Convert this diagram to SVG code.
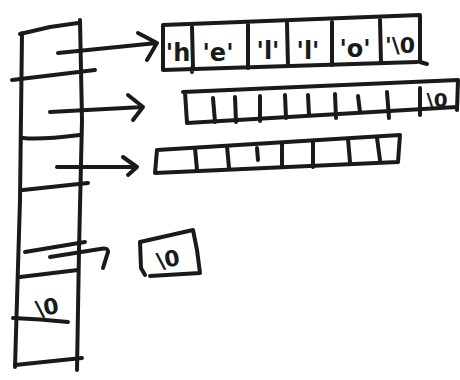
<svg xmlns="http://www.w3.org/2000/svg" width="460" height="380" viewBox="0 0 460 380">
<style>
.s{fill:none;stroke:#1a1a1a;stroke-width:4;stroke-linecap:round;stroke-linejoin:round}
.t{font-family:"DejaVu Sans",sans-serif;font-weight:bold;fill:#1a1a1a;text-anchor:middle}
</style>
<rect width="460" height="380" fill="#ffffff"/>
<g id="pointer-array">
<path class="s" d="M20,34 L50,27 L78,23 M22,33 L20,200 L17,300 L15,367 M80,20 L82,120 L79,250 L77,370"/>
<path class="s" d="M12,80 L95,70 M23,138 Q40,140 80,135 M23,190 L88,183 M25,252 L85,242 M20,277 L78,270 M13,318 Q40,319 68,322 M15,365 L82,358"/>
<text class="t" x="47" y="315" font-size="22" transform="rotate(-10 47 307)">\0</text>
</g>
<g id="string-hello">
<path class="s" d="M163,25 L420,15 L420,62 L427,64 M163,25 L163,70 L417,62 M192,72 L192,68"/>
<path class="s" d="M192,27 L193,68 M248,25 L248,68 M287,23 L288,66 M332,22 L332,65 M380,20 L381,63"/>
<text class="t" x="178" y="61" font-size="24">'h</text>
<text class="t" x="218" y="61" font-size="24">'e'</text>
<text class="t" x="268" y="59" font-size="24">'l'</text>
<text class="t" x="308" y="59" font-size="24">'l'</text>
<text class="t" x="355" y="57" font-size="24">'o'</text>
<text class="t" x="400" y="53" font-size="22">'\0</text>
</g>
<g id="array-row2">
<path class="s" d="M183,92 L458,80 L457,110 M185,92 L187,123 L457,107"/>
<path class="s" d="M213,98 L215,122 M235,97 L236,122 M260,96 L260,121 M285,95 L286,118 M308,95 L309,115 M335,94 L336,118 M358,96 L360,112 M387,92 L389,118 M420,88 L420,115"/>
<text class="t" x="437" y="107" font-size="20">\0</text>
</g>
<g id="array-row3">
<path class="s" d="M157,150 L400,135 L398,162 M157,150 L155,173 L398,162"/>
<path class="s" d="M195,148 L197,170 M227,146 L229,168 M257,148 L258,160 M282,144 L282,166 M313,142 L313,167 M348,139 L350,162 M377,138 L380,160"/>
</g>
<g id="char-box">
<path class="s" d="M140,242 L193,230 L197,250 L200,273 L150,276 M140,242 L141,268 L145,275"/>
<text class="t" x="168" y="267" font-size="22" transform="rotate(-10 168 259)">\0</text>
</g>
<g id="connectors">
<path class="s" d="M58,53 L157,43 M138,33 L157,43 L147,60"/>
<path class="s" d="M50,112 L143,107 M128,95 L143,107 L133,120"/>
<path class="s" d="M57,167 L137,167 M123,157 L137,167 L128,175"/>
<path class="s" d="M50,257 L100,249 Q108,247 108,252 L103,268"/>
</g>
</svg>
